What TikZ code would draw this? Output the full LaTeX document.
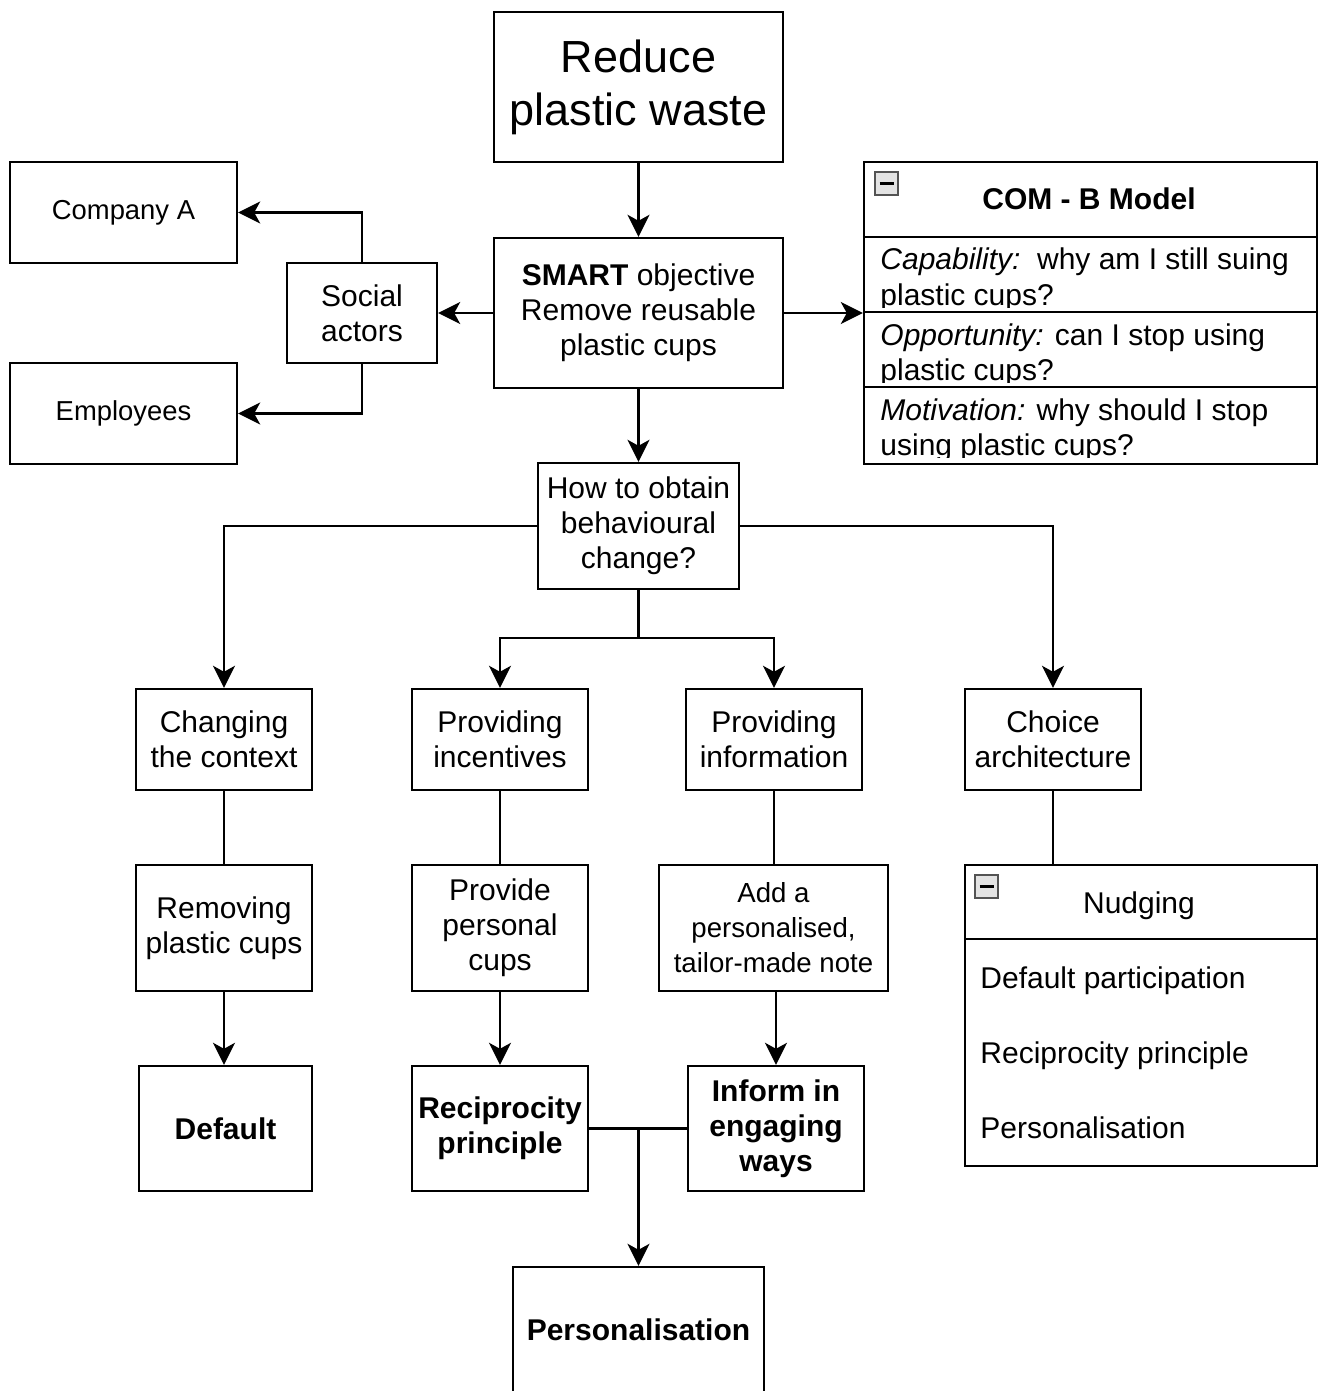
\documentclass[tikz,border=0pt]{standalone}
\usepackage{fontspec}
\setmainfont{Liberation Sans}
\usetikzlibrary{arrows.meta}
\newcommand\fsz[2]{\fontsize{#1pt}{#2pt}\selectfont}
\begin{document}
\begin{tikzpicture}[x=0.5pt,y=-0.5pt,
  box/.style={draw, line width=1.2pt, inner sep=0pt, align=center, font=\fsz{15}{17.5}},
  boldbox/.style={box, font=\fsz{15}{17.5}\bfseries},
  arr/.style={line width=1.2pt, -{Stealth[length=11pt,width=11pt,inset=3pt]}},
  con/.style={line width=1.2pt},
  rowtext/.style={anchor=base west, inner sep=0pt, font=\fsz{15}{17.5}},
  minusbox/.style={fill=gray!22, draw=gray!65!black, line width=0.8pt},
  minusbar/.style={line width=1.6pt},
]
\useasboundingbox (0,0) rectangle (1325,1391);

% nodes
\node[box, font=\fsz{22.5}{26.5}, minimum width=144.5pt, minimum height=75pt] (reduce) at (638.5,87) {Reduce\\plastic waste};
\node[box, minimum width=144.5pt, minimum height=75pt] (smart) at (638.5,313) {\textbf{SMART} objective\\Remove reusable\\plastic cups};
\node[box, minimum width=75pt, minimum height=50pt] (social) at (362,313) {Social\\actors};
\node[box, font=\fsz{13.7}{17.5}, minimum width=113.5pt, minimum height=50.5pt] (compA) at (123.5,212.5) {Company A};
\node[box, font=\fsz{13.7}{17.5}, minimum width=113.5pt, minimum height=50.5pt] (empl) at (123.5,413.5) {Employees};
\node[draw, line width=1.2pt, inner sep=0pt, minimum width=226.5pt, minimum height=151pt] (comb) at (1090.5,313) {};
\node[box, minimum width=100.5pt, minimum height=63pt] (how) at (638.5,526) {How to obtain\\behavioural\\change?};

\node[box, minimum width=88pt, minimum height=50.5pt] (chg) at (224,739.5) {Changing\\the context};
\node[box, minimum width=88pt, minimum height=50.5pt] (inc) at (500,739.5) {Providing\\incentives};
\node[box, minimum width=88pt, minimum height=50.5pt] (inf) at (774,739.5) {Providing\\information};
\node[box, minimum width=88pt, minimum height=50.5pt] (cho) at (1053,739.5) {Choice\\architecture};

\node[box, minimum width=88pt, minimum height=63pt] (rem) at (224,928) {Removing\\plastic cups};
\node[box, minimum width=88pt, minimum height=63pt] (ppc) at (500,928) {Provide\\personal\\cups};
\node[box, font=\fsz{13.8}{17.5}, minimum width=114.5pt, minimum height=63pt] (add) at (773.5,928) {Add a\\personalised,\\tailor-made note};
\node[draw, line width=1.2pt, inner sep=0pt, minimum width=176pt, minimum height=150.5pt] (nud) at (1141,1015.5) {};

\node[boldbox, minimum width=86.5pt, minimum height=62.5pt] (def) at (225.5,1128.5) {Default};
\node[boldbox, minimum width=88pt, minimum height=62.5pt] (rec) at (500,1128.5) {Reciprocity\\principle};
\node[boldbox, minimum width=88pt, minimum height=62.5pt] (inform) at (776,1128.5) {Inform in\\engaging\\ways};
\node[boldbox, minimum width=125.5pt, minimum height=63pt] (pers) at (638.5,1330) {Personalisation};

% COM-B model internals
\draw[con] ([yshift=-38pt]comb.north west) -- ([yshift=-38pt]comb.north east);
\draw[con] ([yshift=-75.5pt]comb.north west) -- ([yshift=-75.5pt]comb.north east);
\draw[con] ([yshift=-113pt]comb.north west) -- ([yshift=-113pt]comb.north east);
\node[inner sep=0pt, anchor=base, font=\fsz{15}{17.5}\bfseries] (combt) at (1089,210) {COM - B Model};
\draw[minusbox] (875,172) rectangle (898,195);
\draw[minusbar] (879.5,183.5) -- (893.5,183.5);
\begin{scope}
  \clip (864,238) rectangle (1317,307);
  \node[rowtext] (cap1) at (880,270) {\textit{Capability:}\ \ why am I still suing};
  \node[rowtext] (cap2) at (880,305) {plastic cups?};
\end{scope}
\begin{scope}
  \clip (864,313) rectangle (1317,382);
  \node[rowtext] (opp1) at (880,345) {\textit{Opportunity:} can I stop using};
  \node[rowtext] (opp2) at (880,380) {plastic cups?};
\end{scope}
\begin{scope}
  \clip (864,388) rectangle (1317,457);
  \node[rowtext] (mot1) at (880,420) {\textit{Motivation:} why should I stop};
  \node[rowtext] (mot2) at (880,455) {using plastic cups?};
\end{scope}

% Nudging internals
\draw[con] ([yshift=-37.5pt]nud.north west) -- ([yshift=-37.5pt]nud.north east);
\node[inner sep=0pt, anchor=base, font=\fsz{15}{17.5}] (nudt) at (1139,913) {Nudging};
\draw[minusbox] (975,875) rectangle (998,898);
\draw[minusbar] (979.5,886.5) -- (993.5,886.5);
\node[rowtext] (n1) at (980,988) {Default participation};
\node[rowtext] (n2) at (980,1063) {Reciprocity principle};
\node[rowtext] (n3) at (980,1138) {Personalisation};

% connectors
\draw[arr] (reduce) -- (smart);
\draw[arr] (smart) -- (social);
\draw[arr] (social.north) |- (compA.east);
\draw[arr] (social.south) |- (empl.east);
\draw[arr] (smart) -- (comb.west);
\draw[arr] (smart) -- (how);
\draw[arr] (how.west) -| (chg.north);
\draw[arr] (how.east) -| (cho.north);
\coordinate (j1) at (638.5,638);
\draw[con] (how.south) -- (j1);
\draw[arr] (j1) -| (inc.north);
\draw[arr] (j1) -| (inf.north);
\draw[con] (chg) -- (rem);
\draw[con] (inc) -- (ppc);
\draw[con] (inf.south) -- (inf.south |- add.north);
\draw[con] (cho.south) -- (cho.south |- nud.north);
\draw[arr] (rem.south) -- (rem.south |- def.north);
\draw[arr] (ppc) -- (rec);
\draw[arr] (inform.north |- add.south) -- (inform.north);
\draw[con] (rec.east) -- (inform.west);
\draw[arr] (rec.east -| pers.north) -- (pers.north);
\end{tikzpicture}
\end{document}
